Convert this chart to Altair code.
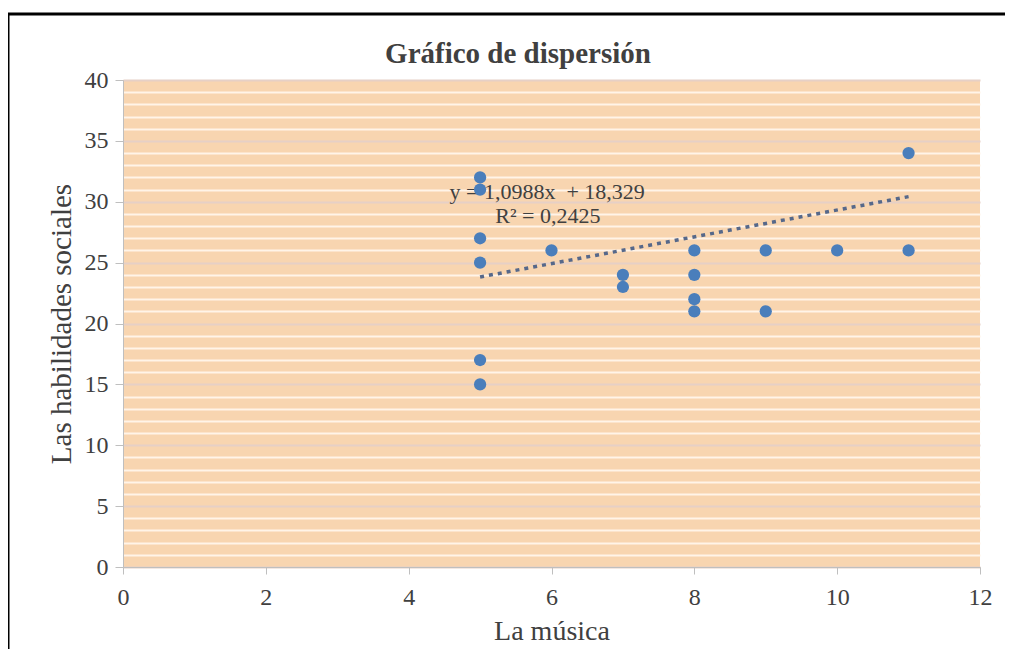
import altair as alt
import pandas as pd

# data
musica = [5, 5, 5, 5, 5, 5, 6, 7, 7, 8, 8, 8, 8, 9, 9, 10, 11, 11]
habilidades = [32, 31, 27, 25, 17, 15, 26, 24, 23, 26, 24, 22, 21, 26, 21, 26, 34, 26]

trend_x = [5, 11]
trend_y = [23.82, 30.42]

eq_labels = ["y = 1,0988x\u00a0\u00a0+ 18,329", "R² = 0,2425"]
eq_x = [5.94, 5.95]
eq_y = [30.8, 28.8]

x_ticks = [0, 2, 4, 6, 8, 10, 12]
y_grid = list(range(0, 41))

FONT = "Liberation Serif"
TXT = "#404040"

pts = pd.DataFrame({"x": musica, "y": habilidades})
trend = pd.DataFrame({"x": trend_x, "y": trend_y})
eq = pd.DataFrame({"t": eq_labels, "x": eq_x, "y": eq_y})

xscale = alt.Scale(domain=[0, 12], nice=False, zero=True)
yscale = alt.Scale(domain=[0, 40], nice=False)

xaxis = alt.Axis(values=x_ticks, format="d", grid=False, domain=True, domainColor="#BFBFBF",
                 tickColor="#BFBFBF", tickSize=7, labelFont=FONT, labelFontSize=24,
                 labelColor=TXT, labelPadding=11, labelFlush=False, title="La música", titleFont=FONT,
                 titleFontSize=28, titleFontWeight="normal", titleColor=TXT, titlePadding=8)
yaxis = alt.Axis(values=y_grid, format="d", grid=True, labelOverlap=False, labelFlush=False,
                 gridColor=alt.condition("datum.value % 5 === 0", alt.value("#E6D0C6"), alt.value("#FFF4E8")),
                 gridWidth=2, gridOpacity=1,
                 labelExpr="datum.value % 5 === 0 ? datum.label : ''",
                 tickOpacity=alt.condition("datum.value % 5 === 0", alt.value(1), alt.value(0)),
                 domain=True, domainColor="#BFBFBF", tickColor="#BFBFBF", tickSize=8,
                 labelFont=FONT, labelFontSize=24, labelColor=TXT, labelPadding=7,
                 title="Las habilidades sociales", titleFont=FONT, titleFontSize=29,
                 titleFontWeight="normal", titleColor=TXT, titlePadding=8)

X = lambda: alt.X("x:Q", scale=xscale, axis=xaxis)
Y = lambda: alt.Y("y:Q", scale=yscale, axis=yaxis)

frame = alt.Chart(pd.DataFrame({"d": [0]})).mark_rect(
    filled=False, fillOpacity=0, stroke="black", strokeWidth=3, clip=False
).encode(x=alt.value(-115), x2=alt.value(900), y=alt.value(-66), y2=alt.value(700))

title = alt.Chart(pd.DataFrame({"t": ["Gráfico de dispersión"]})).mark_text(
    font=FONT, fontSize=29, fontWeight="bold", color=TXT, align="center", baseline="middle"
).encode(x=alt.value(395), y=alt.value(-26), text="t:N")

points = alt.Chart(pts).mark_circle(size=150, color="#4A7EBB", opacity=1).encode(x=X(), y=Y())

line = alt.Chart(trend).mark_line(color="#56688A", strokeWidth=3.5, strokeDash=[4, 5]).encode(x=X(), y=Y())

text = alt.Chart(eq).mark_text(font=FONT, fontSize=22, color=TXT, align="center", baseline="middle").encode(
    x=X(), y=Y(), text="t:N"
)

chart = alt.layer(text, points, line, frame, title).properties(
    width=857, height=487,
    autosize=alt.AutoSizeParams(type="none"),
    padding={"left": 115, "top": 72, "right": 25, "bottom": 82},
).configure(background="white").configure_view(fill="#F8D5B0", stroke=None)

chart.save("out.html", embed_options={"renderer": "svg", "actions": False})
